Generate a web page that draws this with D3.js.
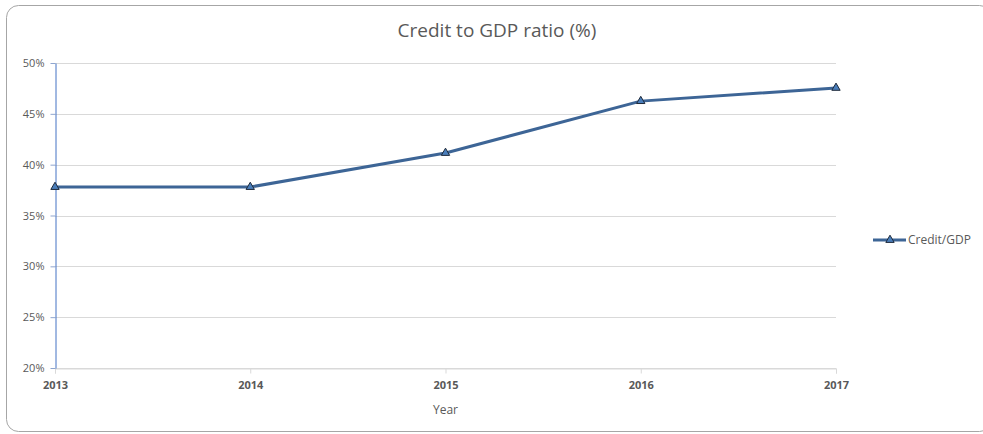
<!DOCTYPE html>
<html>
<head>
<meta charset="utf-8">
<script src="https://cdn.jsdelivr.net/npm/d3@7"></script>
<style>
  body { margin: 0; background: #fff; }
  text { font-family: "Open Sans", "Noto Sans", sans-serif; }
</style>
</head>
<body>
<div id="chart"></div>
<script>
const years = [2013, 2014, 2015, 2016, 2017];
const creditToGdp = [37.8, 37.8, 41.15, 46.25, 47.55];
const yTicks = [20, 25, 30, 35, 40, 45, 50];
const seriesName = "Credit/GDP";

const W = 983, H = 434;
const margin = { top: 63, right: 147, bottom: 66, left: 55 };
const width = W - margin.left - margin.right;
const height = H - margin.top - margin.bottom;

const svg = d3.select("#chart").append("svg")
    .attr("width", W)
    .attr("height", H);

// frame
svg.append("rect")
    .attr("x", 6.5).attr("y", 5.5)
    .attr("width", 985).attr("height", 426)
    .attr("rx", 12)
    .style("fill", "#fff")
    .style("stroke", "#a6a6a6")
    .style("stroke-width", 1);

svg.append("text")
    .attr("x", 497).attr("y", 37)
    .attr("text-anchor", "middle")
    .style("font-size", "19px")
    .style("fill", "#595959")
    .text("Credit to GDP ratio (%)");

const g = svg.append("g")
    .attr("transform", `translate(${margin.left}, ${margin.top})`);

const x = d3.scalePoint().domain(years).range([0, width]);
const y = d3.scaleLinear().domain([20, 50]).range([height, 0]);

// gridlines
g.selectAll(".grid").data(yTicks).enter().append("line")
    .attr("x1", 0).attr("x2", width)
    .attr("y1", d => Math.round(y(d)) + 0.5)
    .attr("y2", d => Math.round(y(d)) + 0.5)
    .style("stroke", "#d9d9d9");

// x axis
const xAxis = g.append("g")
    .attr("transform", `translate(0, ${height + 0.5})`)
    .call(d3.axisBottom(x).tickSize(5).tickPadding(8));
xAxis.select(".domain").style("stroke", "#d9d9d9");
xAxis.selectAll(".tick line").style("stroke", "#d9d9d9");
xAxis.selectAll("text")
    .style("font-size", "11px")
    .style("font-weight", "bold")
    .style("fill", "#595959");

// y axis
const yAxis = g.append("g")
    .attr("transform", "translate(0.5, 0)")
    .call(d3.axisLeft(y).tickValues(yTicks).tickSize(5).tickSizeOuter(0)
        .tickFormat(d => d + "%").tickPadding(6));
yAxis.select(".domain").style("stroke", "#4472c4");
yAxis.selectAll(".tick line").style("stroke", "#8ea5cf");
yAxis.selectAll("text")
    .style("font-size", "11px")
    .style("fill", "#595959");

g.append("text")
    .attr("x", width / 2)
    .attr("y", height + 46)
    .attr("text-anchor", "middle")
    .style("font-size", "12px")
    .style("fill", "#595959")
    .text("Year");

const data = years.map((yr, i) => ({ year: yr, value: creditToGdp[i] }));

const lineGen = d3.line()
    .x(d => x(d.year))
    .y(d => y(d.value));

g.append("path")
    .datum(data)
    .attr("d", lineGen)
    .style("fill", "none")
    .style("stroke", "#3d6596")
    .style("stroke-width", 3)
    .style("stroke-linejoin", "round");

const tri = d3.symbol().type(d3.symbolTriangle).size(30);

g.selectAll(".marker").data(data).enter().append("path")
    .attr("transform", d => `translate(${x(d.year)}, ${y(d.value)})`)
    .attr("d", tri)
    .style("fill", "#4a7ebb")
    .style("stroke", "#1f2a3a")
    .style("stroke-width", 1);

// legend
const lg = svg.append("g").attr("transform", "translate(873, 240)");
lg.append("line")
    .attr("x1", 0).attr("x2", 33)
    .style("stroke", "#3d6596")
    .style("stroke-width", 3);
lg.append("path")
    .attr("transform", "translate(17, 0)")
    .attr("d", tri)
    .style("fill", "#4a7ebb")
    .style("stroke", "#1f2a3a");
lg.append("text")
    .attr("x", 35).attr("y", 4)
    .style("font-size", "12px")
    .style("fill", "#595959")
    .text(seriesName);
</script>
</body>
</html>
